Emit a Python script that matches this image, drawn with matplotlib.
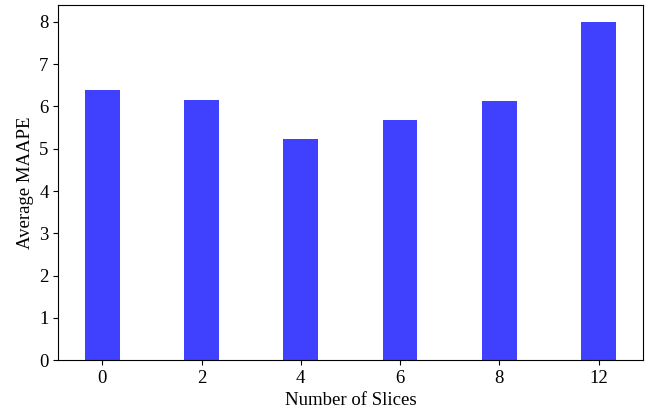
import matplotlib.pyplot as plt
import numpy as np

plt.rcParams['font.family'] = ['Liberation Serif', 'DejaVu Serif']

slices = ['0', '2', '4', '6', '8', '12']
maape = [6.40, 6.16, 5.24, 5.67, 6.12, 8.00]

fig, ax = plt.subplots(figsize=(6.55, 4.13), dpi=100)
x = np.arange(len(slices))
ax.bar(x, maape, width=0.35, color='blue', alpha=0.75)
ax.set_xticks(x)
ax.set_xticklabels(slices)
ax.set_xlabel('Number of Slices', fontsize=13.5)
ax.set_ylabel('Average MAAPE', fontsize=13.5)
ax.tick_params(labelsize=13.5)

fig.subplots_adjust(left=0.089, right=0.981, top=0.988, bottom=0.128)
fig.savefig('out.png')
